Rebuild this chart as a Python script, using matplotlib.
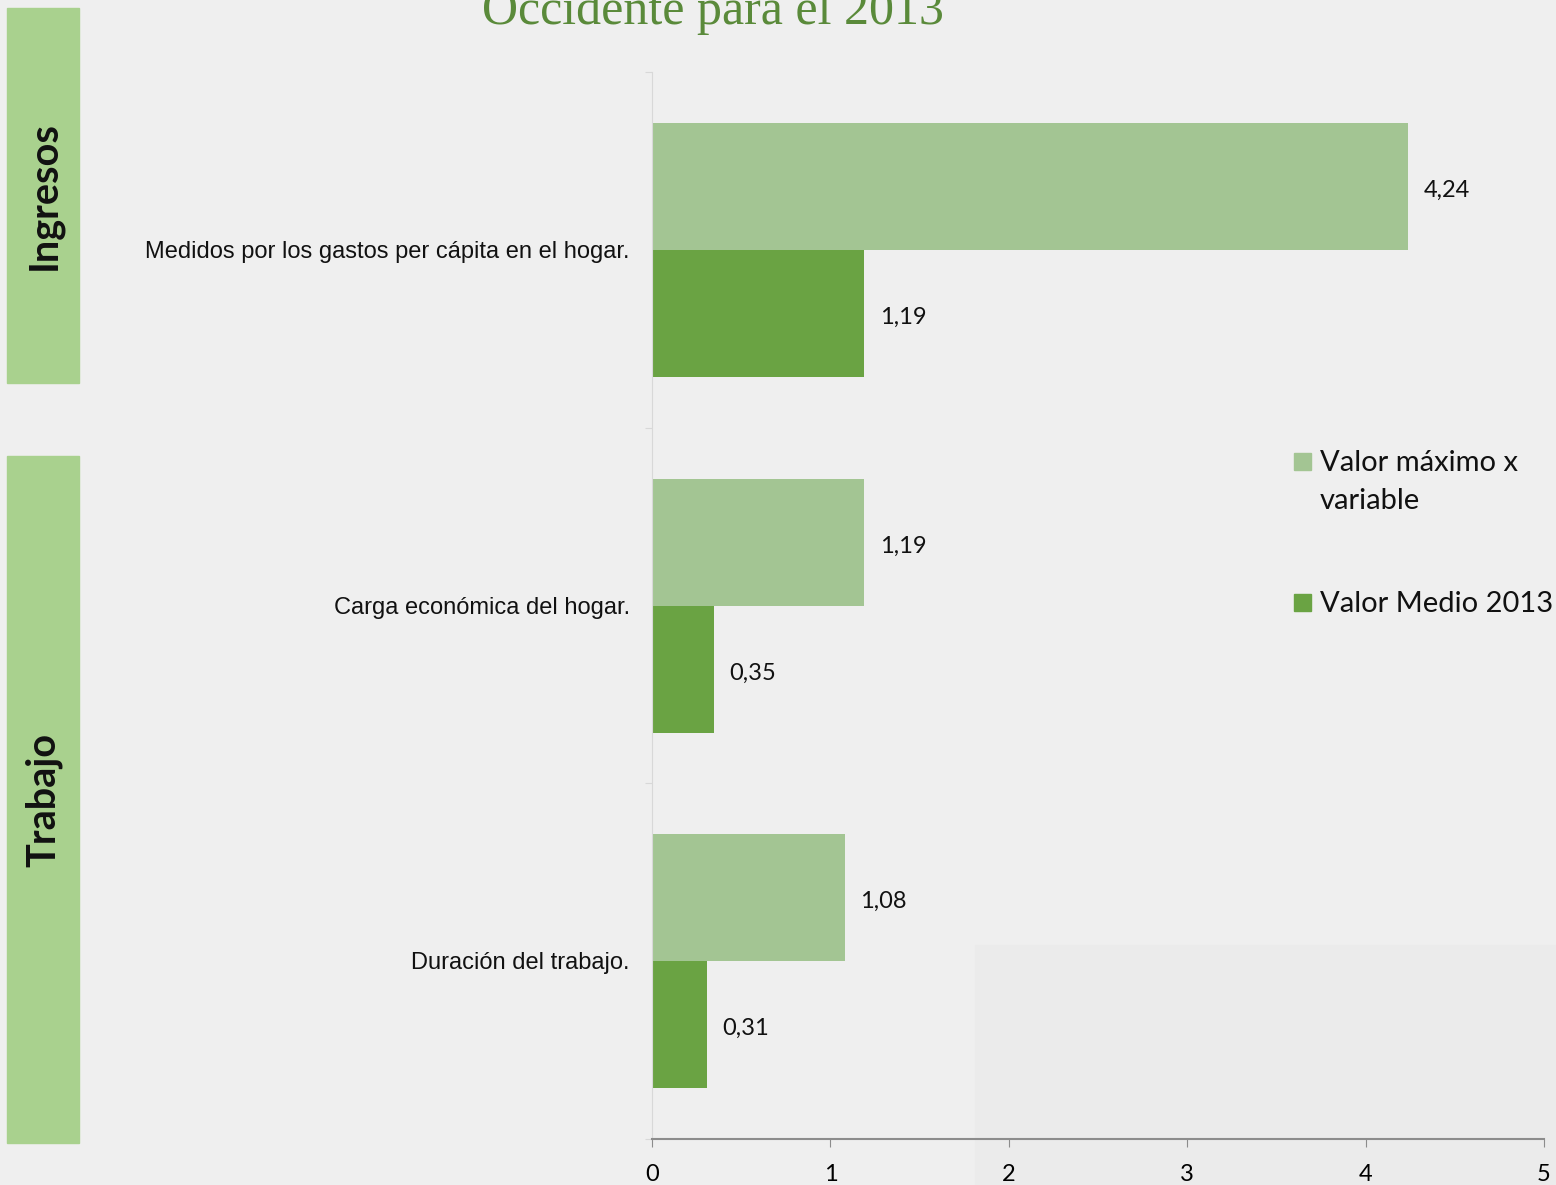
import matplotlib
matplotlib.use("Agg")
import matplotlib.pyplot as plt
from matplotlib.patches import Rectangle
import numpy as np

categories = ["Medidos por los gastos per cápita en el hogar.",
              "Carga económica del hogar.",
              "Duración del trabajo."]
valor_maximo = [4.24, 1.19, 1.08]
valor_medio = [1.19, 0.35, 0.31]
series_names = ["Valor máximo x\nvariable", "Valor Medio 2013"]
x_ticks = [0, 1, 2, 3, 4, 5]
title = "Occidente para el 2013"
groups = ["Ingresos", "Trabajo"]

BG = "#EFEFEF"
LIGHT = "#A3C593"
DARK = "#6AA343"
PANEL = "#A9D18E"
W, H = 1556, 1185

fig = plt.figure(figsize=(W / 100, H / 100), dpi=100, facecolor=BG)

# lighter region bottom right
fig.patches.append(Rectangle((975 / W, 0), 1 - 975 / W, (H - 945) / H,
                             transform=fig.transFigure, color="#EBEBEB", zorder=-5))

ax = fig.add_axes([652 / W, 1 - 1139 / H, (1544 - 652) / W, (1139 - 72) / H])
ax.set_facecolor("none")

n = len(categories)
centers = np.arange(n) + 0.5
bh = 127 / (1067 / 3)
b1 = ax.barh(centers - bh / 2, valor_maximo, height=bh, color=LIGHT, label=series_names[0])
b2 = ax.barh(centers + bh / 2, valor_medio, height=bh, color=DARK, label=series_names[1])

for bars, vals in ((b1, valor_maximo), (b2, valor_medio)):
    for r, v in zip(bars, vals):
        ax.annotate(f"{v:.2f}".replace(".", ","),
                    (r.get_width(), r.get_y() + r.get_height() / 2),
                    xytext=(11, -3), textcoords="offset points",
                    ha="left", va="center", fontsize=17, family="Lato", color="#111")

ax.set_xlim(0, 5)
ax.set_ylim(n, 0)
ax.set_xticks(x_ticks)
ax.set_xticklabels([str(t) for t in x_ticks], fontsize=17, family="Lato")
ax.set_yticks(np.arange(n + 1))
ax.set_yticklabels([])
ax.tick_params(axis="y", length=5, color="#D8D8D8", direction="out")
ax.tick_params(axis="x", length=6, color="#8C8C8C", direction="out", pad=12)
for s in ("top", "right"):
    ax.spines[s].set_visible(False)
ax.spines["left"].set_color("#D8D8D8")
ax.spines["bottom"].set_color("#8C8C8C")
ax.spines["bottom"].set_linewidth(1.5)

for c, lab in zip(centers, categories):
    ax.annotate(lab, (0, c), xytext=(-16, -1.5), textcoords="offset points",
                ha="right", va="center", fontsize=17,
                family="Liberation Sans", color="#111")

# legend (drawn manually to match the layout)
leg_items = [(series_names[0], LIGHT, 461), (series_names[1], DARK, 602)]
for lab, col, yc in leg_items:
    fig.patches.append(Rectangle((1294 / W, 1 - (yc + 9) / H), 17 / W, 17 / H,
                                 transform=fig.transFigure, color=col))
    fig.text(1320 / W, 1 - (yc - 11) / H, lab, ha="left", va="top",
             fontsize=21, family="Lato", color="#111", linespacing=1.55)

# side panels
for (y0, y1), g in zip(((8, 383), (456, 1143)), groups):
    fig.patches.append(Rectangle((7 / W, 1 - y1 / H), 72 / W, (y1 - y0) / H,
                                 transform=fig.transFigure, color=PANEL, zorder=1))
    fig.text(44 / W, 1 - (y0 + y1) / 2 / H, g, rotation=90, ha="center", va="center",
             fontsize=28.5, fontweight="bold", family="Lato", color="#111")

fig.text(713 / W, 1 - 24 / H, title, ha="center", va="baseline", fontsize=36,
         family="Liberation Serif", color="#5A8A3A")

fig.savefig("out.png", dpi=100, facecolor=BG)
